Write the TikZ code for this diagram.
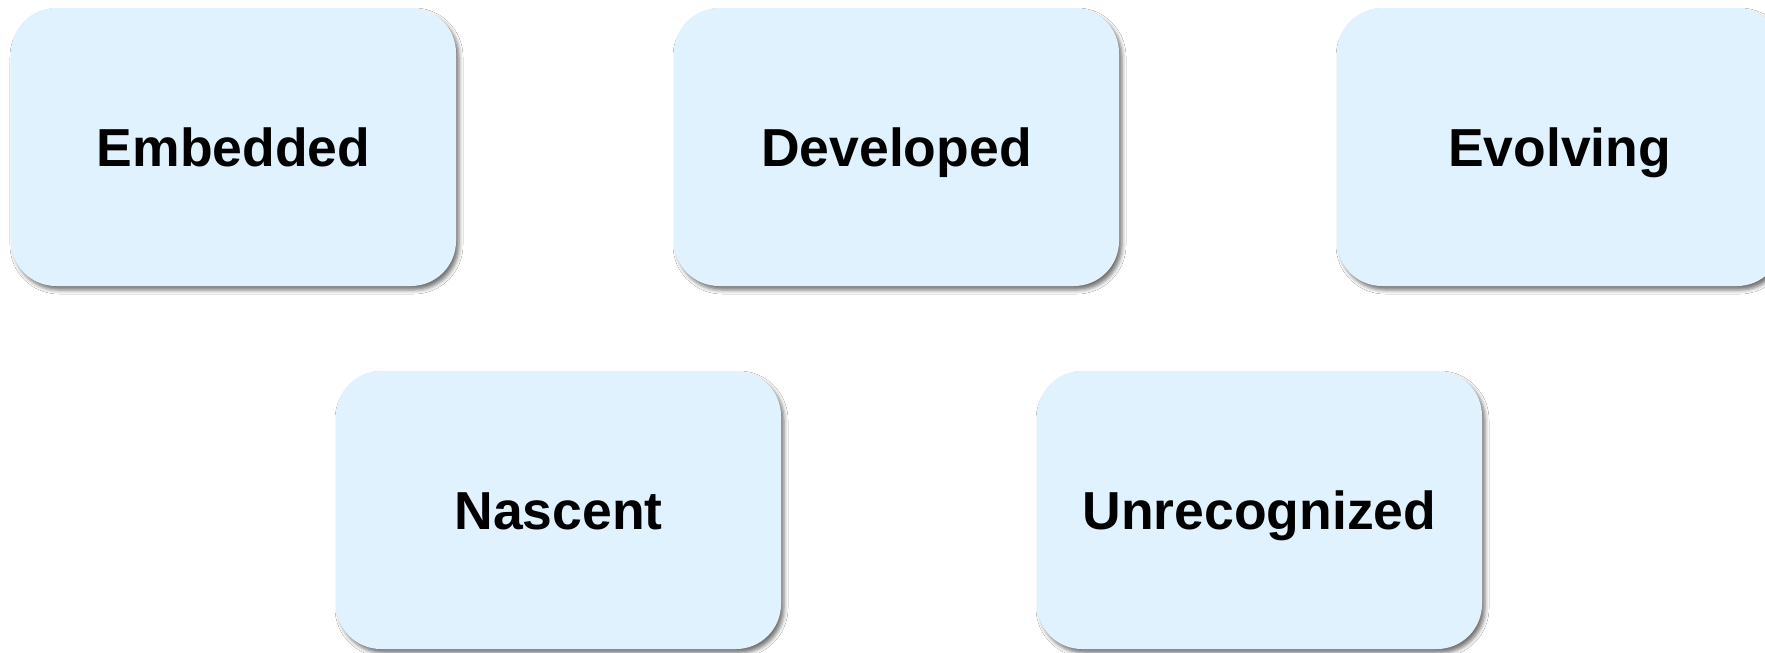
\documentclass[tikz,border=0pt]{standalone}
\usepackage{fontspec}
\setmainfont{Liberation Sans}
\usetikzlibrary{shadows.blur}
\definecolor{boxfill}{RGB}{224,242,254}
\tikzset{
  box/.style={rectangle, rounded corners=45pt, fill=boxfill,
    minimum width=445pt, minimum height=278pt, inner sep=0pt,
    text height=38pt, text depth=0pt,
    font=\fontsize{53.5}{60}\selectfont\bfseries, text=black,
    blur shadow={shadow xshift=3pt, shadow yshift=-4pt, shadow blur radius=4pt, shadow opacity=55}}
}
\begin{document}
\begin{tikzpicture}[x=1pt,y=-1pt]
\clip (0,0) rectangle (1765,653);
\fill[white] (0,0) rectangle (1765,653);
\node[box] (emb) at (233.5,147) {Embedded};
\node[box] (dev) at (896.5,147) {Developed};
\node[box] (evo) at (1559.5,147) {Evolving};
\node[box] (nas) at (558.5,510) {Nascent};
\node[box] (unr) at (1259.5,510) {Unrecognized};
\end{tikzpicture}
\end{document}
